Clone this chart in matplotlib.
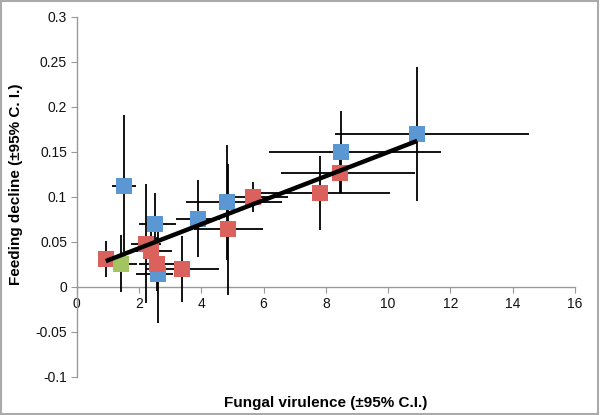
import numpy as np
import matplotlib.pyplot as plt
from matplotlib.patches import Rectangle

plt.rcParams['font.family'] = ['Liberation Sans', 'DejaVu Sans']

# blue series
blue_x = [1.51, 2.51, 2.61, 3.90, 4.81, 8.49, 10.94]
blue_y = [0.112, 0.070, 0.014, 0.076, 0.094, 0.150, 0.170]
blue_yerr = [0.079, 0.034, 0.054, 0.043, 0.064, 0.046, 0.074]
blue_xlo = [0.39, 0.51, 0.72, 0.70, 1.31, 2.32, 2.64]
blue_xhi = [0.39, 0.67, 0.48, 0.70, 1.79, 3.21, 3.59]

# red series
red_x = [0.93, 2.22, 2.37, 2.59, 3.38, 4.87, 5.67, 7.81, 8.46]
red_y = [0.031, 0.048, 0.040, 0.026, 0.020, 0.064, 0.100, 0.104, 0.127]
red_yerr = [0.020, 0.066, 0.030, 0.030, 0.037, 0.073, 0.017, 0.041, 0.023]
red_xlo = [0.0, 0.47, 0.70, 0.60, 1.20, 1.10, 1.10, 2.25, 1.90]
red_xhi = [0.0, 0.47, 0.70, 0.60, 1.20, 1.10, 1.10, 2.25, 2.40]

# green series
green_x = [1.42]
green_y = [0.026]
green_yerr = [0.032]
green_xerr = [0.50]

xticks = np.arange(0, 17, 2)
yticks = [-0.1, -0.05, 0, 0.05, 0.1, 0.15, 0.2, 0.25, 0.3]
ytick_labels = ['-0.1', '-0.05', '0', '0.05', '0.1', '0.15', '0.2', '0.25', '0.3']

fig = plt.figure(figsize=(6, 4.15), dpi=100)
ax = fig.add_axes([0.128, 0.0916, 0.83, 0.8675])

eb = dict(fmt='s', ecolor='black', elinewidth=1.3, capsize=3, capthick=1.3,
          markersize=11.2, markeredgewidth=0)
ax.errorbar(blue_x, blue_y, yerr=blue_yerr, xerr=[blue_xlo, blue_xhi],
            color='#5B97D3', zorder=3, **eb)
ax.errorbar(red_x, red_y, yerr=red_yerr, xerr=[red_xlo, red_xhi],
            color='#DB625C', zorder=3, **eb)
ax.errorbar(green_x, green_y, yerr=green_yerr, xerr=green_xerr,
            color='#A3C462', zorder=3, **eb)

# linear trend over all points
all_x = np.array(blue_x + red_x + green_x)
all_y = np.array(blue_y + red_y + green_y)
slope, icpt = np.polyfit(all_x, all_y, 1)
tx = np.array([all_x.min(), all_x.max()])
ax.plot(tx, slope * tx + icpt, color='black', lw=3.2, zorder=4,
        solid_capstyle='butt')

ax.set_xlim(0, 16)
ax.set_ylim(-0.1, 0.3)
ax.spines['left'].set_position(('data', 0))
ax.spines['bottom'].set_position(('data', 0))
ax.spines['top'].set_visible(False)
ax.spines['right'].set_visible(False)
for s in ['left', 'bottom']:
    ax.spines[s].set_color('#999999')
    ax.spines[s].set_linewidth(1.0)
ax.set_xticks(xticks)
ax.set_yticks(yticks)
ax.set_yticklabels(ytick_labels)
ax.tick_params(axis='both', direction='out', length=4, color='#999999',
               labelsize=10, labelcolor='#111111', pad=3)
ax.patch.set_visible(False)

fig.text(0.543, 0.028, 'Fungal virulence (±95% C.I.)', ha='center',
         va='center', fontsize=11, fontweight='bold')
fig.text(0.027, 0.555, 'Feeding decline (±95% C. I.)', ha='center',
         va='center', rotation=90, fontsize=11, fontweight='bold')

fig.patches.append(Rectangle((0.002, 0.003), 0.995, 0.994, transform=fig.transFigure,
                             fill=False, edgecolor='#aaaaaa', lw=1.5))

plt.savefig('out.png', dpi=100)
